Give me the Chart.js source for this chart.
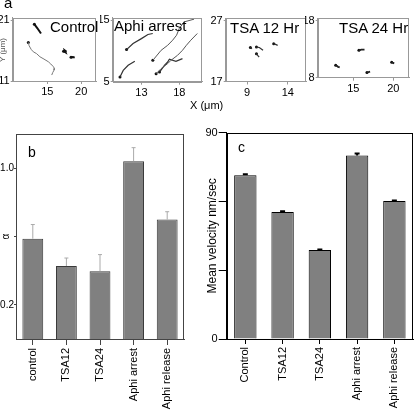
<!DOCTYPE html>
<html>
<head>
<meta charset="utf-8">
<script src="https://cdn.jsdelivr.net/npm/chart.js@4.4.1/dist/chart.umd.min.js"></script>
<style>
  body { margin: 0; background: #fff; }
  #wrap { position: relative; width: 415px; height: 411px; overflow: hidden; font-family: "Liberation Sans", Arial, sans-serif; }
  canvas { position: absolute; }
  .txt { position: absolute; line-height: 1; white-space: nowrap; color: #000; }
</style>
</head>
<body>
<div id="wrap">
  <canvas id="ctrl" style="left:0px;top:8px;width:100px;height:94px" width="100" height="94"></canvas>
  <canvas id="arrest" style="left:100px;top:8px;width:106px;height:94px" width="106" height="94"></canvas>
  <canvas id="tsa12" style="left:205px;top:8px;width:105px;height:94px" width="105" height="94"></canvas>
  <canvas id="tsa24" style="left:305px;top:8px;width:110px;height:94px" width="110" height="94"></canvas>
  <canvas id="alphaChart" style="left:0px;top:115px;width:200px;height:296px" width="200" height="296"></canvas>
  <canvas id="velChart" style="left:205px;top:115px;width:210px;height:296px" width="210" height="296"></canvas>

  <div class="txt" style="left:4px;top:-5px;font-size:15px">a</div>
  <div class="txt" style="left:-9px;top:46px;font-size:8px;color:#555;transform:rotate(-90deg)">Y (μm)</div>
  <div class="txt" style="left:190px;top:100px;font-size:11px">X (μm)</div>
  <div class="txt" style="left:50px;top:19px;font-size:15px">Control</div>
  <div class="txt" style="left:114px;top:18px;font-size:15px">Aphi arrest</div>
  <div class="txt" style="left:230px;top:19.5px;font-size:15px">TSA 12 Hr</div>
  <div class="txt" style="left:339px;top:19.5px;font-size:15px">TSA 24 Hr</div>
  <div class="txt" style="left:28px;top:145px;font-size:14px">b</div>
  <div class="txt" style="left:238px;top:140px;font-size:14px">c</div>
</div>

<script>
// Trajektori (μm) panel a
const controlTracks = [
  [[13.07, 20.34], [13.5, 19.7], [14.06, 18.8]],
  [[12.18, 17.34], [12.3, 16.8], [12.6, 16.2], [12.92, 15.8], [13.4, 15.5], [13.9, 14.98], [14.5, 14.6],
   [15.15, 14.16], [15.5, 13.8], [15.9, 13.34], [16.04, 13.08], [16.0, 12.8], [15.8, 12.4], [15.65, 11.98]],
  [[17.4, 15.9], [17.7, 15.7], [17.6, 16.0], [17.85, 15.8]],
  [[18.5, 14.9], [18.8, 14.95], [19.05, 14.85]],
];
const arrestTracks = [
  [[11.04, 10.22], [11.9, 11.2], [13.0, 12.0], [13.86, 12.67], [14.5, 12.83]],
  [[10.17, 5.75], [10.6, 6.84], [11.25, 7.66], [12.13, 8.31]],
  [[14.51, 8.47], [15.6, 10.1], [16.47, 10.92], [17.12, 11.74], [17.64, 12.55], [18.0, 13.65], [18.65, 14.72], [19.95, 15.16]],
  [[14.94, 6.3], [15.6, 7.12], [16.47, 7.94], [16.9, 8.47], [17.77, 9.29], [18.42, 10.1], [18.94, 10.92], [19.52, 11.74], [20.38, 12.83]],
  [[15.39, 6.57], [16.04, 7.66], [16.47, 8.2], [16.69, 8.64], [17.56, 8.31], [18.42, 8.75]],
];
const tsa12Tracks = [
  [[9.4, 22.6], [9.6, 22.4]],
  [[10.15, 22.67], [10.5, 22.6], [10.96, 22.13]],
  [[10.15, 21.58], [10.3, 21.3], [10.48, 21.03]],
  [[12.27, 23.2], [12.5, 23.1], [12.76, 22.95]],
];
const tsa24Tracks = [
  [[12.8, 10.2], [13.1, 9.9], [13.3, 9.8]],
  [[15.7, 12.8], [16.0, 12.9], [16.4, 12.9]],
  [[16.7, 8.9], [17.1, 9.05]],
  [[19.8, 10.7], [20.1, 10.5], [20.0, 10.6]],
];

// Panel b: alpha
const alphaCategories = ["control", "TSA12", "TSA24", "Aphi arrest", "Aphi release"];
const alphaValues = [0.587, 0.427, 0.397, 1.041, 0.699];
const alphaErrors = [0.083, 0.047, 0.097, 0.079, 0.046];
const alphaTicks = [0.2, 0.6, 1.0];

// Panel c: kecepatan rata-rata
const velCategories = ["Control", "TSA12", "TSA24", "Aphi arrest", "Aphi release"];
const velValues = [71.4, 55.4, 38.8, 80.1, 60.2];
const velErrors = [0.5, 0.3, 0.2, 0.8, 0.2];
const velTicks = [0, 30, 60, 90];

Chart.defaults.font.family = "'Liberation Sans', Arial, sans-serif";
Chart.defaults.color = "#000";
Chart.defaults.animation = false;
Chart.defaults.responsive = false;
Chart.defaults.plugins.legend.display = false;
Chart.defaults.plugins.tooltip.enabled = false;

// Plugin untuk kotak bingkai
const framePlugin = {
  id: "frame",
  afterDraw(chart, args, opts) {
    const a = chart.chartArea;
    const ctx = chart.ctx;
    ctx.save();
    ctx.strokeStyle = opts.color || "#000";
    ctx.lineWidth = 1;
    ctx.strokeRect(Math.round(a.left) + 0.5, Math.round(a.top) + 0.5, Math.round(a.right - a.left) - 1, Math.round(a.bottom - a.top));
    ctx.restore();
  },
};

// Plugin untuk error bar (hanya ke atas)
const errorBarPlugin = {
  id: "errorBars",
  afterDatasetsDraw(chart, args, opts) {
    const ctx = chart.ctx;
    const yScale = chart.scales.y;
    chart.data.datasets.forEach((ds, di) => {
      if (!ds.errors) return;
      const meta = chart.getDatasetMeta(di);
      meta.data.forEach((bar, i) => {
        const top = yScale.getPixelForValue(ds.data[i] + ds.errors[i]);
        ctx.save();
        ctx.strokeStyle = opts.color;
        ctx.lineWidth = opts.width;
        ctx.beginPath();
        ctx.moveTo(bar.x, bar.y);
        ctx.lineTo(bar.x, top);
        ctx.moveTo(bar.x - opts.cap, top);
        ctx.lineTo(bar.x + opts.cap, top);
        ctx.stroke();
        ctx.restore();
      });
    });
  },
};

// Fungsi untuk membuat chart trajektori kecil
function makeTrackChart(id, tracks, box, xr, yr, style) {
  const datasets = tracks.map((t) => ({
    data: t.map((p) => ({ x: p[0], y: p[1] })),
    showLine: true,
    borderColor: t.length > 6 ? style.longColor : style.shortColor,
    borderWidth: t.length > 6 ? style.longWidth : style.shortWidth,
    pointRadius: 0,
    tension: 0,
  }));
  // titik ujung tiap trajektori
  datasets.push({
    data: tracks.map((t) => ({ x: t[0][0], y: t[0][1] })),
    pointRadius: 1.5,
    pointBackgroundColor: "#111",
    pointBorderWidth: 0,
  });

  return new Chart(document.getElementById(id), {
    type: "scatter",
    data: { datasets },
    plugins: [framePlugin],
    options: {
      layout: { padding: { top: box.top, right: box.right, left: 0, bottom: 0 } },
      plugins: { frame: { color: "#999" } },
      scales: {
        x: {
          type: "linear",
          min: xr.min,
          max: xr.max,
          afterBuildTicks: (s) => { s.ticks = xr.ticks.map((v) => ({ value: v })); },
          afterFit: (s) => { s.height = box.xh; },
          grid: { drawOnChartArea: false, tickLength: 3, color: "#999" },
          border: { color: "#999" },
          ticks: { font: { size: 11 }, padding: 1.5, maxRotation: 0 },
        },
        y: {
          type: "linear",
          min: yr.min,
          max: yr.max,
          afterBuildTicks: (s) => { s.ticks = yr.ticks.map((v) => ({ value: v })); },
          afterFit: (s) => { s.width = box.yw; },
          grid: { drawOnChartArea: false, tickLength: 2, color: "#999" },
          border: { color: "#999" },
          ticks: { font: { size: 11 }, padding: 1 },
        },
      },
    },
  });
}

makeTrackChart("ctrl", controlTracks, { top: 9.7, right: 4, xh: 21, yw: 12.7 },
  { min: 9.87, max: 22.2, ticks: [15, 20] }, { min: 11, max: 21.4, ticks: [11, 21] },
  { longColor: "#777", longWidth: 1, shortColor: "#111", shortWidth: 2 });
makeTrackChart("arrest", arrestTracks, { top: 9.7, right: 3, xh: 20.3, yw: 12.7 },
  { min: 9.21, max: 21.0, ticks: [13, 18] }, { min: 5, max: 15.4, ticks: [5, 15] },
  { longColor: "#555", longWidth: 1, shortColor: "#333", shortWidth: 1.2 });
makeTrackChart("tsa12", tsa12Tracks, { top: 10.3, right: 3.3, xh: 20.5, yw: 20.7 },
  { min: 6.37, max: 16.24, ticks: [9, 14] }, { min: 17, max: 27.4, ticks: [17, 27] },
  { longColor: "#333", longWidth: 1, shortColor: "#333", shortWidth: 1.2 });
makeTrackChart("tsa24", tsa24Tracks, { top: 10.3, right: 6, xh: 24.3, yw: 12.7 },
  { min: 10.55, max: 21.96, ticks: [15, 20] }, { min: 8, max: 18.4, ticks: [8, 18] },
  { longColor: "#222", longWidth: 1, shortColor: "#222", shortWidth: 1.8 });

// Panel b
new Chart(document.getElementById("alphaChart"), {
  type: "bar",
  data: {
    labels: alphaCategories,
    datasets: [{
      data: alphaValues,
      errors: alphaErrors,
      backgroundColor: "#808080",
      borderColor: "#3a3a3a",
      borderWidth: 1,
      barPercentage: 0.62,
      categoryPercentage: 1,
    }],
  },
  plugins: [framePlugin, errorBarPlugin],
  options: {
    layout: { padding: { top: 19, right: 16, left: 0, bottom: 0 } },
    plugins: { frame: { color: "#444" }, errorBars: { color: "#aaa", width: 1, cap: 2 } },
    scales: {
      x: {
        afterFit: (s) => { s.height = 72; },
        grid: { drawOnChartArea: false, offset: false, tickLength: 6, color: "#444" },
        border: { color: "#444" },
        ticks: { font: { size: 11 }, minRotation: 90, maxRotation: 90, padding: 3 },
      },
      y: {
        min: 0,
        max: 1.2,
        afterBuildTicks: (s) => { s.ticks = alphaTicks.map((v) => ({ value: v })); },
        afterFit: (s) => { s.width = 16; },
        grid: { drawOnChartArea: false, tickLength: 2, color: "#444" },
        border: { color: "#444" },
        title: { display: true, text: "α", font: { size: 10 }, padding: { top: 0, bottom: 0, left: 2 } },
        ticks: {
          font: { size: 10 },
          padding: 0,
          callback: (v) => (v === 0.6 ? "" : v.toFixed(1)),
        },
      },
    },
  },
});

// Panel c
new Chart(document.getElementById("velChart"), {
  type: "bar",
  data: {
    labels: velCategories,
    datasets: [{
      data: velValues,
      errors: velErrors,
      backgroundColor: "#808080",
      borderColor: "#000",
      borderWidth: 1,
      barPercentage: 0.6,
      categoryPercentage: 1,
    }],
  },
  plugins: [framePlugin, errorBarPlugin],
  options: {
    layout: { padding: { top: 17.7, right: 2, left: 0, bottom: 0 } },
    plugins: { frame: { color: "#000" }, errorBars: { color: "#000", width: 2, cap: 2.5 } },
    scales: {
      x: {
        afterFit: (s) => { s.height = 72; },
        grid: { drawOnChartArea: false, offset: false, tickLength: 5, color: "#000" },
        border: { color: "#000" },
        ticks: { font: { size: 11 }, minRotation: 90, maxRotation: 90, padding: 3 },
      },
      y: {
        min: 0,
        max: 90,
        afterBuildTicks: (s) => { s.ticks = velTicks.map((v) => ({ value: v })); },
        afterFit: (s) => { s.width = 21.7; },
        grid: { drawOnChartArea: false, tickLength: 8, color: "#000" },
        border: { color: "#000" },
        title: { display: true, text: "Mean velocity nm/sec", font: { size: 12 }, padding: 0 },
        ticks: {
          font: { size: 11 },
          padding: 1,
          callback: (v) => (v === 0 || v === 90 ? v : ""),
        },
      },
    },
  },
});
</script>
</body>
</html>
